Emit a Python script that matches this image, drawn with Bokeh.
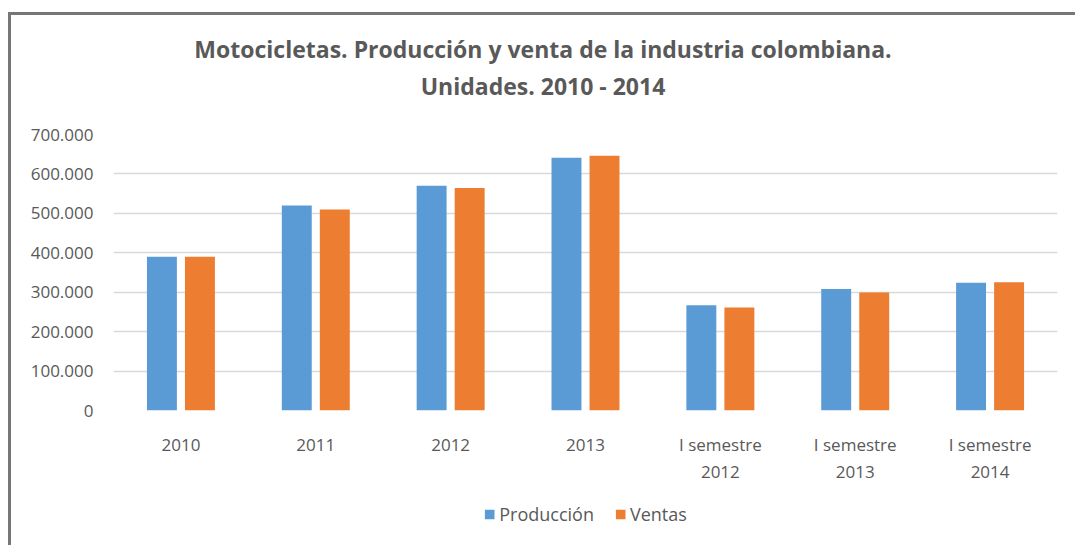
from bokeh.plotting import figure
from bokeh.models import (FactorRange, Range1d, FixedTicker, Legend, LegendItem, ColumnDataSource,
                          Div, CustomJSTickFormatter)
from bokeh.layouts import column
from bokeh.transform import dodge
from bokeh.embed import file_html
from bokeh.resources import INLINE

categories = ["2010", "2011", "2012", "2013", "I semestre\n2012", "I semestre\n2013", "I semestre\n2014"]
produccion = [390000, 520000, 570000, 641000, 267000, 308000, 324000]
ventas = [390000, 510000, 564000, 646000, 261000, 299000, 325000]
y_ticks = [0, 100000, 200000, 300000, 400000, 500000, 600000, 700000]
y_tick_labels = ["0", "100.000", "200.000", "300.000", "400.000", "500.000", "600.000", "700.000"]
title_line1 = "Motocicletas. Producción y venta de la industria colombiana."
title_line2 = "Unidades. 2010 - 2014"
series_names = ["Producción", "Ventas"]
series_colors = ["#5B9BD5", "#ED7D31"]

FONT = "Open Sans"
TXT = "#595959"

# ---- title (HTML text) ----
title = Div(text=f"{title_line1}<br>{title_line2}", width=1064, height=104, margin=0,
            styles={"font-family": FONT, "font-size": "23px", "font-weight": "bold",
                    "color": TXT, "text-align": "center", "line-height": "37px",
                    "padding-top": "16px", "box-sizing": "border-box"})

# ---- main chart ----
src = ColumnDataSource(dict(cat=categories, prod=produccion, vent=ventas))

p = figure(width=1064, height=383, x_range=FactorRange(*categories, range_padding=0),
           y_range=Range1d(0, 700000), output_backend="svg", toolbar_location=None,
           min_border_left=102, min_border_right=18, min_border_top=15, min_border_bottom=92)
p.margin = 0
p.outline_line_color = None
p.background_fill_color = "white"
p.border_fill_color = "white"

r1 = p.vbar(x=dodge("cat", -0.141, range=p.x_range), top="prod", width=0.222, source=src,
            fill_color=series_colors[0], line_color=None)
r2 = p.vbar(x=dodge("cat", 0.141, range=p.x_range), top="vent", width=0.222, source=src,
            fill_color=series_colors[1], line_color=None)

# y axis
p.yaxis.ticker = FixedTicker(ticks=y_ticks)
p.yaxis.major_label_overrides = {t: l for t, l in zip(y_ticks, y_tick_labels)}
p.yaxis.axis_line_color = None
p.yaxis.major_tick_line_color = None
p.yaxis.minor_tick_line_color = None
p.yaxis.major_label_standoff = 14
p.yaxis.major_label_text_font = FONT
p.yaxis.major_label_text_font_size = "17px"
p.yaxis.major_label_text_color = TXT

# x axis: single-line labels get an empty second line so all first lines align
p.xaxis.formatter = CustomJSTickFormatter(
    code='return tick.indexOf("\\n") >= 0 ? tick : tick + "\\n\\u00a0";')
p.xaxis.axis_line_color = None
p.xaxis.major_tick_line_color = None
p.xaxis.major_label_standoff = 16
p.xaxis.major_label_text_font = FONT
p.xaxis.major_label_text_font_size = "17px"
p.xaxis.major_label_text_color = TXT
p.xaxis.major_label_text_align = "center"
p.xaxis.major_label_orientation = "horizontal"

p.xgrid.grid_line_color = None
p.ygrid.grid_line_color = "#d9d9d9"
p.ygrid.grid_line_width = 1.5

# ---- legend strip ----
p2 = figure(width=1064, height=43, x_range=Range1d(0, 1), y_range=Range1d(0, 1),
            output_backend="svg", toolbar_location=None,
            min_border_left=0, min_border_right=0, min_border_top=0, min_border_bottom=0,
            x_axis_type=None, y_axis_type=None)
p2.margin = 0
p2.outline_line_color = None
p2.grid.visible = False
g1 = p2.vbar(x=[-10], top=[0], width=0.1, fill_color=series_colors[0], line_color=None)
g2 = p2.vbar(x=[-10], top=[0], width=0.1, fill_color=series_colors[1], line_color=None)
legend = Legend(items=[LegendItem(label=series_names[0], renderers=[g1]),
                       LegendItem(label=series_names[1], renderers=[g2])],
                orientation="horizontal", location="top_center",
                label_text_font=FONT, label_text_font_size="18px", label_text_color=TXT,
                glyph_width=12, glyph_height=12, spacing=20, label_standoff=4,
                border_line_color=None, background_fill_alpha=0, margin=0, padding=4)
p2.add_layout(legend)

layout = column(title, p, p2, spacing=0,
                styles={"margin-left": "8px", "margin-top": "12px",
                        "border-left": "3px solid #777777", "border-top": "3px solid #777777"})

open("out.html", "w").write(file_html(layout, INLINE))
